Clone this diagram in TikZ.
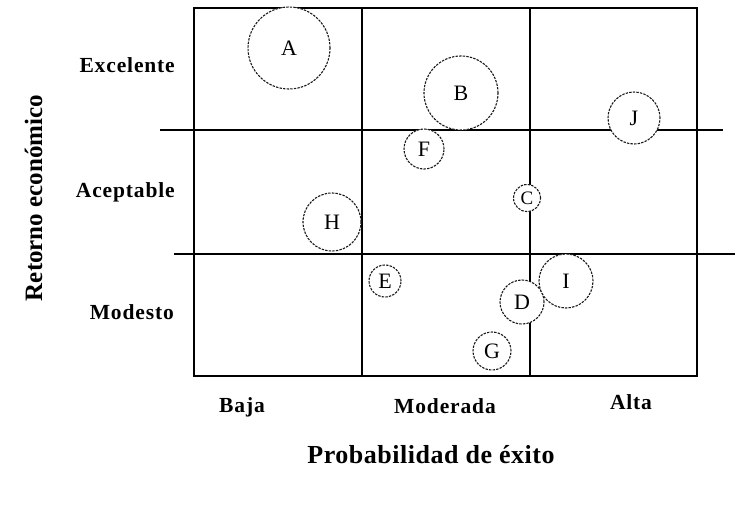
\documentclass[tikz,border=0pt]{standalone}
\usepackage{fontspec}
\setmainfont{Liberation Serif}

\begin{document}
\begin{tikzpicture}[x=1pt,y=-1pt]
\tikzstyle{every node}+=[inner sep=0pt]
\tikzstyle{bubble}=[circle,draw=black!90,dash pattern=on 2.4pt off 1.2pt,line width=1.1pt,fill=white,font=\fontsize{22}{22}\selectfont]
\tikzstyle{level}=[font=\bfseries\fontsize{21.5}{24}\selectfont\addfontfeatures{LetterSpace=4}]
\useasboundingbox (0,0) rectangle (749,504);
% grid
\draw [black, line width=1.7pt] (362,8) -- (362,376);
\draw [black, line width=1.7pt] (530,8) -- (530,376);
\draw [black, line width=1.7pt] (160,130) -- (723,130);
\draw [black, line width=1.7pt] (174,254) -- (735,254);
\draw [black, line width=2.3pt] (194,8) rectangle (697,376);
% projects
\node [bubble, minimum size=82pt] (A) at (289,48) {A};
\node [bubble, minimum size=74pt] (B) at (461,93) {B};
\node [bubble, minimum size=40pt] (F) at (424,149) {F};
\node [bubble, minimum size=52pt] (J) at (634,118) {J};
\node [bubble, minimum size=27pt, font=\fontsize{19}{19}\selectfont] (C) at (527,198) {C};
\node [bubble, minimum size=58pt] (H) at (332,222) {H};
\node [bubble, minimum size=32pt] (E) at (385,281) {E};
\node [bubble, minimum size=44pt] (D) at (522,302) {D};
\node [bubble, minimum size=54pt] (I) at (566,281) {I};
\node [bubble, minimum size=38pt] (G) at (492,351) {G};
% labels
\node [level, anchor=base east] (exc) at (175,72) {Excelente};
\node [level, anchor=base east] (ace) at (175,197) {Aceptable};
\node [level, anchor=base east] (mod) at (174,319) {Modesto};
\node [level, anchor=base] (baja) at (242,412) {Baja};
\node [level, anchor=base] (moderada) at (445,413) {Moderada};
\node [level, anchor=base] (alta) at (631,409) {Alta};
\node [anchor=base, font=\bfseries\fontsize{26}{28}\selectfont\addfontfeatures{LetterSpace=2}] (prob) at (431,463) {Probabilidad de éxito};
\node [anchor=base, rotate=90, font=\bfseries\fontsize{25}{28}\selectfont] (ret) at (42,198) {Retorno económico};
\end{tikzpicture}
\end{document}
